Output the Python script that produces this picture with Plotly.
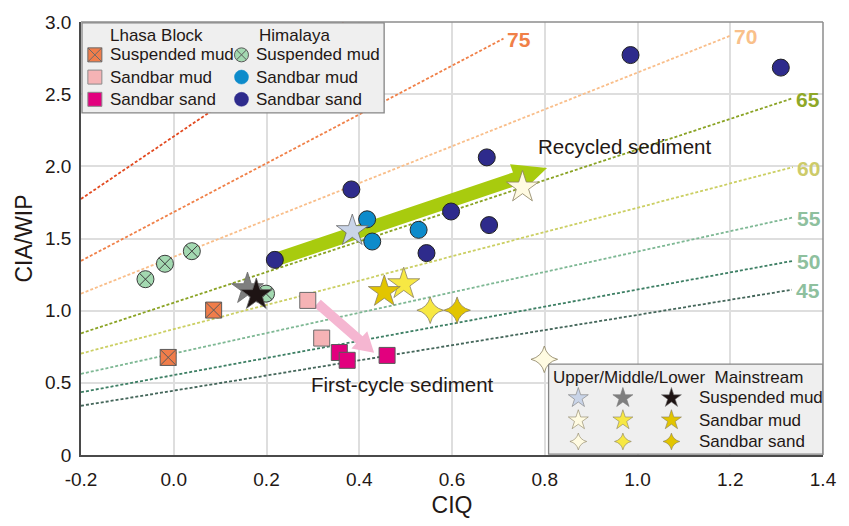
import numpy as np
import plotly.graph_objects as go

FONT = "Liberation Sans, Arial, sans-serif"
INK = "#231815"

# ---- reference lines of constant value in the CIQ - CIA/WIP space ----
line_labels = ["", "75", "70", "65", "60", "55", "50", "45"]
line_x0 = [-0.2, -0.2, -0.2, -0.2, -0.2, -0.2, -0.2, -0.2]
line_y0 = [1.774, 1.345, 1.118, 0.843, 0.703, 0.562, 0.435, 0.341]
line_x1 = [0.366, 0.711, 1.200, 1.333, 1.335, 1.335, 1.335, 1.333]
line_y1 = [3.000, 2.885, 2.905, 2.470, 1.995, 1.646, 1.345, 1.145]
line_colors = ["#E2491F", "#F08048", "#F9BE8A", "#8AA324", "#CBCF63", "#7EB894", "#3D7F64", "#44665A"]
label_colors = ["", "#F08048", "#F9C08A", "#8FA828", "#CDCB6A", "#8EC09E", "#8EC09E", "#8EC09E"]

# ---- Lhasa Block samples ----
lhasa_susp_x = [0.086, -0.012]
lhasa_susp_y = [1.004, 0.676]
lhasa_sbmud_x = [0.289, 0.319]
lhasa_sbmud_y = [1.071, 0.810]
lhasa_sbsand_x = [0.357, 0.374, 0.460]
lhasa_sbsand_y = [0.710, 0.656, 0.690]

# ---- Himalaya samples ----
him_susp_x = [-0.061, -0.019, 0.039, 0.199]
him_susp_y = [1.218, 1.325, 1.412, 1.118]
him_sbmud_x = [0.417, 0.428, 0.528]
him_sbmud_y = [1.633, 1.479, 1.560]
him_sbsand_x = [0.218, 0.383, 0.598, 0.545, 0.675, 0.680, 0.985, 1.309]
him_sbsand_y = [1.352, 1.840, 1.687, 1.399, 2.062, 1.593, 2.771, 2.684]

# ---- Mainstream samples: upper / middle / lower reaches ----
main_reaches = ["Upper", "Middle", "Lower"]
main_susp_x = [0.385, 0.159, 0.178]
main_susp_y = [1.553, 1.151, 1.110]
main_sbmud_x = [0.752, 0.496, 0.454]
main_sbmud_y = [1.855, 1.185, 1.131]
main_sbsand_x = [0.799, 0.553, 0.611]
main_sbsand_y = [0.663, 1.003, 1.003]

susp_colors = ["#C9D4E8", "#7F7F7F", "#1E1414"]
sbmud_colors = ["#FFFBE2", "#F7E843", "#E2C500"]
sbsand_colors = ["#FFFBE2", "#F7E843", "#E2C500"]

# trend arrows (tail, tip) in data units
recycled_arrow = [(0.218, 1.352), (0.805, 1.988)]
firstcycle_arrow = [(0.310, 1.051), (0.432, 0.709)]

W, H = 849, 526
M = dict(l=81, r=19, t=16, b=62)
XR = [-0.2, 1.4]
YR = [0.0, 3.0]
SX = (W - M["l"] - M["r"]) / (XR[1] - XR[0])
SY = (H - M["t"] - M["b"]) / (YR[1] - YR[0])


def arrow_polygon(tail, tip, shaft_w, head_len, head_half):
    """Arrow outline built in screen pixels, returned in data units."""
    p0 = np.array([(tail[0] - XR[0]) * SX, (tail[1] - YR[0]) * SY])
    p1 = np.array([(tip[0] - XR[0]) * SX, (tip[1] - YR[0]) * SY])
    d = (p1 - p0) / np.linalg.norm(p1 - p0)
    n = np.array([-d[1], d[0]])
    base = p1 - d * head_len
    pts = [p0 + n * shaft_w / 2, base + n * shaft_w / 2, base + n * head_half, p1,
           base - n * head_half, base - n * shaft_w / 2, p0 - n * shaft_w / 2, p0 + n * shaft_w / 2]
    xs = [p[0] / SX + XR[0] for p in pts]
    ys = [p[1] / SY + YR[0] for p in pts]
    return xs, ys


fig = go.Figure()

# constant-value lines
for lx0, ly0, lx1, ly1, col in zip(line_x0, line_y0, line_x1, line_y1, line_colors):
    fig.add_trace(go.Scatter(x=[lx0, lx1], y=[ly0, ly1], mode="lines",
                             line=dict(color=col, width=1.8, dash="3px,2px"),
                             hoverinfo="skip", showlegend=False))

# trend arrows
for (tail, tip), col, sw, hl, hh in [(recycled_arrow, "#A8CB0E", 14, 34, 16),
                                     (firstcycle_arrow, "#F5B6D1", 10, 20, 12)]:
    ax, ay = arrow_polygon(tail, tip, sw, hl, hh)
    fig.add_trace(go.Scatter(x=ax, y=ay, mode="lines", fill="toself", fillcolor=col,
                             line=dict(width=0, color=col), hoverinfo="skip", showlegend=False))


def pts(x, y, symbol, color, size, lc="#3C3C3C", lw=1.0):
    fig.add_trace(go.Scatter(x=x, y=y, mode="markers", showlegend=False,
                             marker=dict(symbol=symbol, color=color, size=size,
                                         line=dict(color=lc, width=lw))))


pts(lhasa_susp_x, lhasa_susp_y, "square-x", "#F07D4A", 16, "#5A5A5A")
pts(lhasa_sbmud_x, lhasa_sbmud_y, "square", "#F5B3B5", 16, "#6A6A6A")
pts(lhasa_sbsand_x, lhasa_sbsand_y, "square", "#E2007E", 16, "#5A5A5A")
pts(him_susp_x, him_susp_y, "circle-x", "#A3D9B1", 17, "#3C3C3C")
pts(him_sbmud_x, him_sbmud_y, "circle", "#0D8BCB", 17, "#2A2A2A")
pts(him_sbsand_x, him_sbsand_y, "circle", "#2E2B8C", 17, "#222222")
for i in range(3):
    pts([main_susp_x[i]], [main_susp_y[i]], "star", susp_colors[i], 24, "#6A6A6A", 0.8)
    pts([main_sbmud_x[i]], [main_sbmud_y[i]], "star", sbmud_colors[i], 24, "#8A8060", 0.8)
    pts([main_sbsand_x[i]], [main_sbsand_y[i]], "star-diamond", sbsand_colors[i], 19, "#8A8060", 0.8)

# ---- legend panels, drawn on a pixel-unit overlay ----
OX = [M["l"], W - M["r"]]
OY = [H - M["b"], M["t"]]


def panel(x0, x1, y0, y1):
    fig.add_trace(go.Scatter(x=[x0, x1, x1, x0, x0], y=[y0, y0, y1, y1, y0], xaxis="x2", yaxis="y2",
                             mode="lines", fill="toself", fillcolor="#EFEFEF",
                             line=dict(color="#858585", width=1.3), hoverinfo="skip", showlegend=False))


def key(x, y, symbol, color, size, lc="#4A4A4A", lw=1.0):
    fig.add_trace(go.Scatter(x=[x], y=[y], xaxis="x2", yaxis="y2", mode="markers", showlegend=False,
                             hoverinfo="skip",
                             marker=dict(symbol=symbol, color=color, size=size, line=dict(color=lc, width=lw))))


def label(x, y, text, size=17):
    fig.add_annotation(x=x, y=y, xref="x2", yref="y2", text=text, showarrow=False,
                       xanchor="left", yanchor="middle", font=dict(family=FONT, size=size, color=INK))


panel(82, 387, 17, 110)
label(108, 30, "Lhasa Block")
label(259, 30, "Himalaya")
rows1 = [50, 73, 96]
names = ["Suspended mud", "Sandbar mud", "Sandbar sand"]
key(95, rows1[0], "square-x", "#F07D4A", 14, "#6A6A6A")
key(95, rows1[1], "square", "#F5B3B5", 14, "#8A8A8A")
key(95, rows1[2], "square", "#E2007E", 14, "#8A8A8A")
key(243, rows1[0], "circle-x", "#A3D9B1", 14, "#5A5A5A")
key(243, rows1[1], "circle", "#0D8BCB", 14, "#0D8BCB", 0.5)
key(243, rows1[2], "circle", "#2E2B8C", 14, "#2E2B8C", 0.5)
for ry, nm in zip(rows1, names):
    label(108, ry, nm)
    label(256, ry, nm)

panel(553, 830, 370, 463)
label(555, 384, "Upper/Middle/Lower  Mainstream")
rows2 = [405, 428, 450]
cols2 = [583, 628, 677]
for j in range(3):
    key(cols2[j], rows2[0], "star", susp_colors[j], 15, "#7A7A7A", 0.6)
    key(cols2[j], rows2[1], "star", sbmud_colors[j], 15, "#8A8060", 0.6)
    key(cols2[j], rows2[2], "star-diamond", sbsand_colors[j], 12, "#8A8060", 0.6)
for ry, nm in zip(rows2, names):
    label(703, ry, nm)

# value labels at the line ends
for lab, col, lx1, ly1 in zip(line_labels, label_colors, line_x1, line_y1):
    if lab:
        fig.add_annotation(x=lx1, y=ly1, text=f"<b>{lab}</b>", showarrow=False, xanchor="left",
                           yanchor="middle", xshift=2, yshift=-1,
                           font=dict(family=FONT, size=21, color=col))

fig.add_annotation(x=0.973, y=2.137, text="Recycled sediment", showarrow=False,
                   font=dict(family=FONT, size=20.5, color=INK))
fig.add_annotation(x=0.494, y=0.489, text="First-cycle sediment", showarrow=False,
                   font=dict(family=FONT, size=20.5, color=INK))

# frame: dark left/bottom axes, lighter top/right edges
fig.add_shape(type="line", xref="paper", yref="paper", x0=0, x1=1, y0=1, y1=1,
              line=dict(color="#8C8C8C", width=1.5), layer="above")
fig.add_shape(type="line", xref="paper", yref="paper", x0=1, x1=1, y0=0, y1=1,
              line=dict(color="#8C8C8C", width=1.5), layer="above")

x_ticks = [-0.2, 0.0, 0.2, 0.4, 0.6, 0.8, 1.0, 1.2, 1.4]
y_ticks = [0, 0.5, 1.0, 1.5, 2.0, 2.5, 3.0]
y_ticktext = ["0", "0.5", "1.0", "1.5", "2.0", "2.5", "3.0"]

fig.update_layout(
    width=W, height=H, margin=M, paper_bgcolor="white", plot_bgcolor="white",
    font=dict(family=FONT, color=INK),
    xaxis=dict(range=XR, tickvals=x_ticks, ticktext=[f"{v:.1f}" for v in x_ticks],
               showgrid=True, gridcolor="#DEDEDE", gridwidth=1.5, zeroline=False,
               showline=True, linecolor="#4A4A4A", linewidth=1.5, ticks="",
               ticklabelstandoff=6, tickfont=dict(size=19, color=INK),
               title=dict(text="CIQ", font=dict(size=23, color=INK), standoff=8)),
    yaxis=dict(range=YR, tickvals=y_ticks, ticktext=y_ticktext,
               showgrid=True, gridcolor="#DEDEDE", gridwidth=1.5, zeroline=False,
               showline=True, linecolor="#4A4A4A", linewidth=1.5, ticks="",
               ticklabelstandoff=4, tickfont=dict(size=19, color=INK),
               title=dict(text="CIA/WIP", font=dict(size=23, color=INK), standoff=6)),
    xaxis2=dict(overlaying="x", range=OX, visible=False, fixedrange=True),
    yaxis2=dict(overlaying="y", range=OY, visible=False, fixedrange=True),
    showlegend=False,
)

fig.write_html("out.html")
